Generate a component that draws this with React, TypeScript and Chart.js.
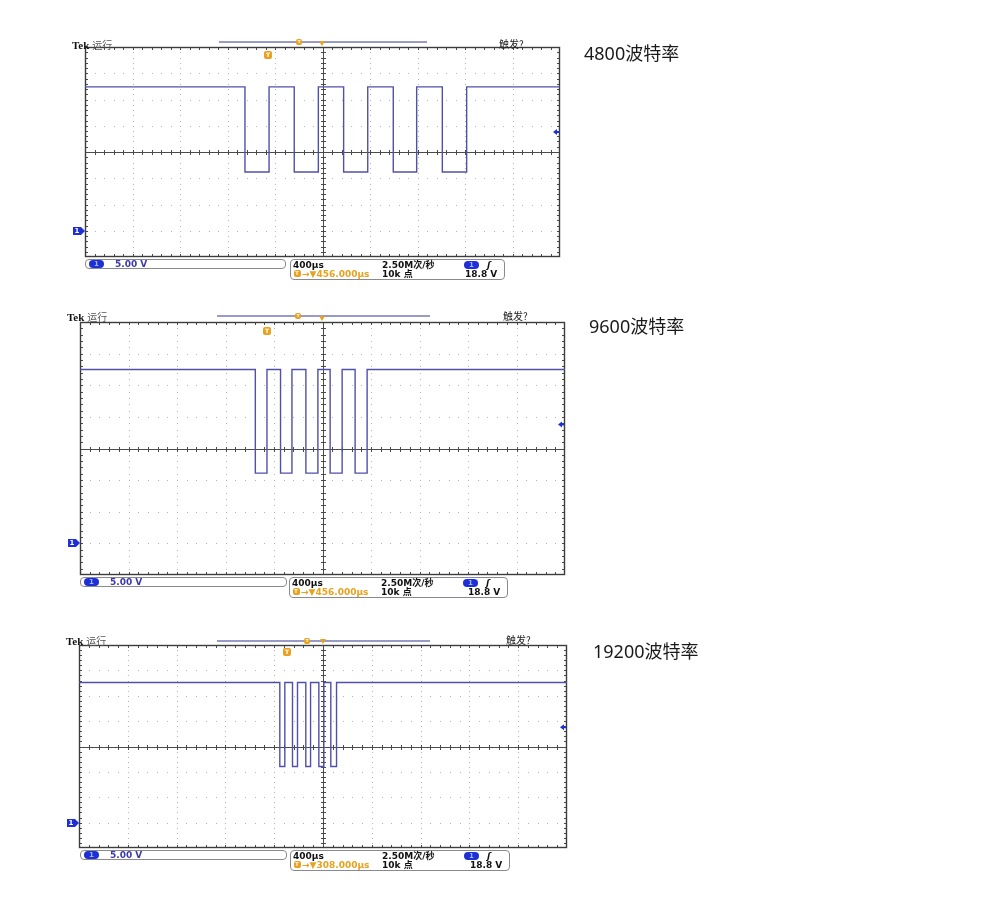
import React, { useEffect, useRef } from 'react';
import { Chart, registerables } from 'chart.js';

Chart.register(...registerables);

// ---------- data ----------
const X_MIN = -2000; // µs, relative to screen centre
const X_MAX = 2000;
const X_DIV = 400; // 400µs / div
const X_MINOR = 80;
const Y_MIN = -5; // volts, ground = 0
const Y_MAX = 35;
const Y_DIV = 5; // 5.00 V / div
const Y_MINOR = 1;
const TRIGGER_LEVEL_V = 18.8;
const GROUND_V = 0;

const IDLE_V = [27.4, 27.5, 27.6];

const EDGES_4800 = [-653, -450, -238, -35, 178, 381, 596, 793, 1009, 1214];
const LEVELS_4800 = [11.2, 27.4, 11.2, 27.4, 11.2, 27.4, 11.2, 27.4, 11.2, 27.4];

const EDGES_9600 = [-554, -458, -346, -252, -137, -38, 63, 162, 269, 368];
const LEVELS_9600 = [11.1, 27.5, 11.1, 27.5, 11.1, 27.5, 11.1, 27.5, 11.1, 27.5];

const EDGES_19200 = [-354, -313, -250, -209, -141, -102, -34, 7, 64, 111];
const LEVELS_19200 = [11.05, 27.6, 11.05, 27.6, 11.05, 27.6, 11.05, 27.6, 11.05, 27.6];

const BAUD_LABELS = ['4800波特率', '9600波特率', '19200波特率'];
const H_DELAY = ['456.000µs', '456.000µs', '308.000µs'];
const VOLTS_DIV_TEXT = '5.00 V';
const TIME_DIV_TEXT = '400µs';
const SAMPLE_RATE_TEXT = '2.50M次/秒';
const RECORD_TEXT = '10k 点';
const TRIG_LEVEL_TEXT = '18.8 V';
const STATUS_TEXT = '运行';
const TRIG_STATUS_TEXT = '触发?';

// ---------- layout ----------
const PANELS = [
  {
    frame: { L: 85, T: 47, R: 560, B: 257 },
    hdrY: 44, tekX: 72, trigX: 499,
    bar: { x1: 219, x2: 427, y: 42 }, barT: 299, tIcon: { x: 268, y: 55 },
    foot: { y: 259, lx1: 85, lx2: 286, rx1: 290, rx2: 505 },
    label: { x: 584, y: 53 },
  },
  {
    frame: { L: 80, T: 322, R: 565, B: 575 },
    hdrY: 316, tekX: 67, trigX: 503,
    bar: { x1: 217, x2: 430, y: 316 }, barT: 298, tIcon: { x: 267, y: 331 },
    foot: { y: 577, lx1: 80, lx2: 287, rx1: 289, rx2: 508 },
    label: { x: 589, y: 326 },
  },
  {
    frame: { L: 79, T: 645, R: 567, B: 848 },
    hdrY: 640, tekX: 66, trigX: 506,
    bar: { x1: 217, x2: 430, y: 641 }, barT: 307, tIcon: { x: 287, y: 652 },
    foot: { y: 850, lx1: 80, lx2: 287, rx1: 290, rx2: 510 },
    label: { x: 593, y: 651 },
  },
];

const SERIES = [
  { edges: EDGES_4800, levels: LEVELS_4800, idle: IDLE_V[0] },
  { edges: EDGES_9600, levels: LEVELS_9600, idle: IDLE_V[1] },
  { edges: EDGES_19200, levels: LEVELS_19200, idle: IDLE_V[2] },
];

const PAD_X = 20;
const PAD_Y = 8;
const TRACE = '#5050ac';
const ORANGE = '#e9a21f';
const BLUE = '#1f2fd6';
const SMALL_FONT = '"DejaVu Sans", "Noto Sans CJK SC", sans-serif';

const scopePlugin = {
  id: 'scopeGrid',
  beforeDatasetsDraw(chart: any) {
    const { ctx, chartArea: a, scales } = chart;
    const x = scales.x;
    const y = scales.y;
    ctx.save();
    // dotted grid
    ctx.fillStyle = '#b4b4b4';
    for (let v = X_MIN + X_DIV; v < X_MAX; v += X_DIV) {
      if (v === 0) continue;
      const px = Math.round(x.getPixelForValue(v));
      for (let m = Y_MIN + Y_MINOR; m < Y_MAX; m += Y_MINOR) {
        const py = Math.round(y.getPixelForValue(m));
        ctx.fillRect(px, py, 1, 1);
      }
    }
    for (let v = Y_MIN + Y_DIV; v < Y_MAX; v += Y_DIV) {
      if (v === 15) continue;
      const py = Math.round(y.getPixelForValue(v));
      for (let m = X_MIN + X_MINOR; m < X_MAX; m += X_MINOR) {
        const px = Math.round(x.getPixelForValue(m));
        ctx.fillRect(px, py, 1, 1);
      }
    }
    // centre cross
    const cx = Math.round(x.getPixelForValue(0)) + 0.5;
    const cy = Math.round(y.getPixelForValue(15)) + 0.5;
    ctx.strokeStyle = '#4a4a4a';
    ctx.lineWidth = 1;
    ctx.beginPath();
    ctx.moveTo(a.left, cy); ctx.lineTo(a.right, cy);
    ctx.moveTo(cx, a.top); ctx.lineTo(cx, a.bottom);
    for (let m = X_MIN + X_MINOR; m < X_MAX; m += X_MINOR) {
      const px = Math.round(x.getPixelForValue(m)) + 0.5;
      ctx.moveTo(px, cy - 2.5); ctx.lineTo(px, cy + 2.5);
      ctx.moveTo(px, a.top); ctx.lineTo(px, a.top + 3);
      ctx.moveTo(px, a.bottom); ctx.lineTo(px, a.bottom - 3);
    }
    for (let m = Y_MIN + Y_MINOR; m < Y_MAX; m += Y_MINOR) {
      const py = Math.round(y.getPixelForValue(m)) + 0.5;
      ctx.moveTo(cx - 2.5, py); ctx.lineTo(cx + 2.5, py);
      ctx.moveTo(a.left, py); ctx.lineTo(a.left + 3, py);
      ctx.moveTo(a.right, py); ctx.lineTo(a.right - 3, py);
    }
    ctx.stroke();
    // frame
    ctx.strokeStyle = '#3c3c3c';
    ctx.lineWidth = 1.4;
    ctx.strokeRect(a.left + 0.5, a.top + 0.5, a.right - a.left - 1, a.bottom - a.top - 1);
    ctx.restore();
  },
  afterDraw(chart: any) {
    const { ctx, chartArea: a, scales } = chart;
    const y = scales.y;
    ctx.save();
    // trigger level arrow (right, inside frame)
    const ty = y.getPixelForValue(TRIGGER_LEVEL_V);
    ctx.fillStyle = BLUE;
    ctx.beginPath();
    ctx.moveTo(a.right - 7, ty);
    ctx.lineTo(a.right - 3, ty - 3);
    ctx.lineTo(a.right - 3, ty + 3);
    ctx.closePath();
    ctx.fill();
    ctx.fillRect(a.right - 4, ty - 1, 3, 2);
    // ground marker (left, outside frame)
    const gy = Math.round(y.getPixelForValue(GROUND_V));
    ctx.fillStyle = BLUE;
    ctx.fillRect(a.left - 12, gy - 4, 8, 8);
    ctx.beginPath();
    ctx.moveTo(a.left - 4, gy - 4);
    ctx.lineTo(a.left, gy);
    ctx.lineTo(a.left - 4, gy + 4);
    ctx.closePath();
    ctx.fill();
    ctx.fillStyle = '#ffffff';
    ctx.font = 'bold 7px "DejaVu Sans"';
    ctx.textAlign = 'center';
    ctx.textBaseline = 'middle';
    ctx.fillText('1', a.left - 8, gy + 0.5);
    ctx.restore();
  },
};

function ScopeCanvas({ idx }: { idx: number }) {
  const ref = useRef<HTMLCanvasElement | null>(null);
  const p = PANELS[idx];
  const s = SERIES[idx];
  const w = p.frame.R - p.frame.L + PAD_X * 2;
  const h = p.frame.B - p.frame.T + PAD_Y * 2;
  useEffect(() => {
    if (!ref.current) return;
    const points = [
      { x: X_MIN, y: s.idle },
      ...s.edges.map((t, i) => ({ x: t, y: s.levels[i] })),
      { x: X_MAX, y: s.levels[s.levels.length - 1] },
    ];
    const chart = new Chart(ref.current, {
      type: 'line',
      data: {
        datasets: [
          {
            data: points,
            borderColor: TRACE,
            borderWidth: 1.4,
            pointRadius: 0,
            stepped: 'before',
            fill: false,
          } as any,
        ],
      },
      options: {
        animation: false,
        responsive: false,
        events: [],
        layout: { padding: { left: PAD_X, right: PAD_X, top: PAD_Y, bottom: PAD_Y } },
        plugins: { legend: { display: false }, tooltip: { enabled: false } },
        scales: {
          x: { type: 'linear', min: X_MIN, max: X_MAX, display: false },
          y: { type: 'linear', min: Y_MIN, max: Y_MAX, display: false },
        },
      },
      plugins: [scopePlugin],
    });
    return () => chart.destroy();
  }, [idx]);
  return (
    <canvas
      ref={ref}
      width={w}
      height={h}
      style={{ position: 'absolute', left: p.frame.L - PAD_X, top: p.frame.T - PAD_Y, width: w, height: h }}
    />
  );
}

function Pill({ x, y }: { x: number; y: number }) {
  return (
    <div
      style={{
        position: 'absolute', left: x, top: y, width: 15, height: 8, borderRadius: 4,
        background: BLUE, color: '#9fb0ff', fontSize: 7, lineHeight: '8px', textAlign: 'center',
        fontFamily: SMALL_FONT, fontWeight: 'bold',
      }}
    >
      1
    </div>
  );
}

function TBox({ x, y, size }: { x: number; y: number; size: number }) {
  return (
    <div
      style={{
        position: 'absolute', left: x - size / 2, top: y - size / 2, width: size, height: size,
        background: ORANGE, borderRadius: 2, color: '#fff', fontSize: size - 2, lineHeight: `${size}px`,
        textAlign: 'center', fontFamily: SMALL_FONT, fontWeight: 'bold',
      }}
    >
      T
    </div>
  );
}

function Txt({ x, y, children, style }: { x: number; y: number; children: any; style?: any }) {
  return (
    <div
      style={{
        position: 'absolute', left: x, top: y - 6, height: 12, lineHeight: '12px', whiteSpace: 'nowrap',
        fontFamily: SMALL_FONT, fontSize: 9, fontWeight: 'bold', color: '#111', ...style,
      }}
    >
      {children}
    </div>
  );
}

function Panel({ idx }: { idx: number }) {
  const p = PANELS[idx];
  const f = p.foot;
  const cx = (p.frame.L + p.frame.R) / 2;
  const line1 = f.y + 5.5;
  const line2 = f.y + 14.5;
  return (
    <>
      <ScopeCanvas idx={idx} />
      {/* header */}
      <div
        style={{
          position: 'absolute', left: p.tekX, top: p.hdrY - 7, height: 14, lineHeight: '14px', whiteSpace: 'nowrap',
        }}
      >
        <span style={{ fontFamily: '"Liberation Serif", serif', fontWeight: 'bold', fontSize: 11, color: '#111' }}>Tek</span>
        <span style={{ fontFamily: '"Noto Sans CJK SC"', fontSize: 10, color: '#555', marginLeft: 3 }}>{STATUS_TEXT}</span>
      </div>
      <div
        style={{
          position: 'absolute', left: p.bar.x1, top: p.bar.y - 1, width: p.bar.x2 - p.bar.x1, height: 1.5,
          background: '#9a9ac6',
        }}
      />
      <TBox x={p.barT} y={p.bar.y} size={6} />
      <div
        style={{
          position: 'absolute', left: cx - 3.5, top: p.frame.T - 6, width: 0, height: 0,
          borderLeft: '3.5px solid transparent', borderRight: '3.5px solid transparent',
          borderTop: `5px solid ${ORANGE}`,
        }}
      />
      <TBox x={p.tIcon.x} y={p.tIcon.y} size={8} />
      <Txt x={p.trigX} y={p.hdrY} style={{ fontWeight: 'normal', fontSize: 10, color: '#222', fontFamily: '"Noto Sans CJK SC"' }}>
        {TRIG_STATUS_TEXT}
      </Txt>
      {/* footer left box */}
      <div
        style={{
          position: 'absolute', left: f.lx1, top: f.y, width: f.lx2 - f.lx1, height: 10,
          border: '1px solid #8a8a8a', borderRadius: 4, boxSizing: 'border-box',
        }}
      />
      <Pill x={f.lx1 + 4} y={f.y + 1} />
      <Txt x={f.lx1 + 30} y={line1 - 0.5} style={{ color: '#3a3aa8' }}>{VOLTS_DIV_TEXT}</Txt>
      {/* footer right box */}
      <div
        style={{
          position: 'absolute', left: f.rx1, top: f.y, width: f.rx2 - f.rx1, height: 21,
          border: '1px solid #8a8a8a', borderRadius: 4, boxSizing: 'border-box',
        }}
      />
      <Txt x={f.rx1 + 3} y={line1}>{TIME_DIV_TEXT}</Txt>
      <Txt x={f.rx1 + 92} y={line1}>{SAMPLE_RATE_TEXT}</Txt>
      <Pill x={f.rx1 + 174} y={f.y + 1.5} />
      <Txt x={f.rx1 + 197} y={line1} style={{ fontStyle: 'italic' }}>ʃ</Txt>
      <TBox x={f.rx1 + 7} y={line2} size={7} />
      <Txt x={f.rx1 + 12} y={line2} style={{ color: ORANGE }}>{'→▼' + H_DELAY[idx]}</Txt>
      <Txt x={f.rx1 + 92} y={line2}>{RECORD_TEXT}</Txt>
      <Txt x={f.rx2 - 40} y={line2}>{TRIG_LEVEL_TEXT}</Txt>
      {/* baud label */}
      <div
        style={{
          position: 'absolute', left: p.label.x, top: p.label.y - 12, height: 24, lineHeight: '24px',
          fontFamily: '"Noto Sans", "Noto Sans CJK SC", sans-serif', fontSize: 18, color: '#1a1a1a', whiteSpace: 'nowrap',
        }}
      >
        {BAUD_LABELS[idx]}
      </div>
    </>
  );
}

export default function App() {
  return (
    <div style={{ position: 'absolute', left: 0, top: 0, width: 1000, height: 897, background: '#fff', overflow: 'hidden' }}>
      {PANELS.map((_, i) => (
        <Panel key={i} idx={i} />
      ))}
    </div>
  );
}
